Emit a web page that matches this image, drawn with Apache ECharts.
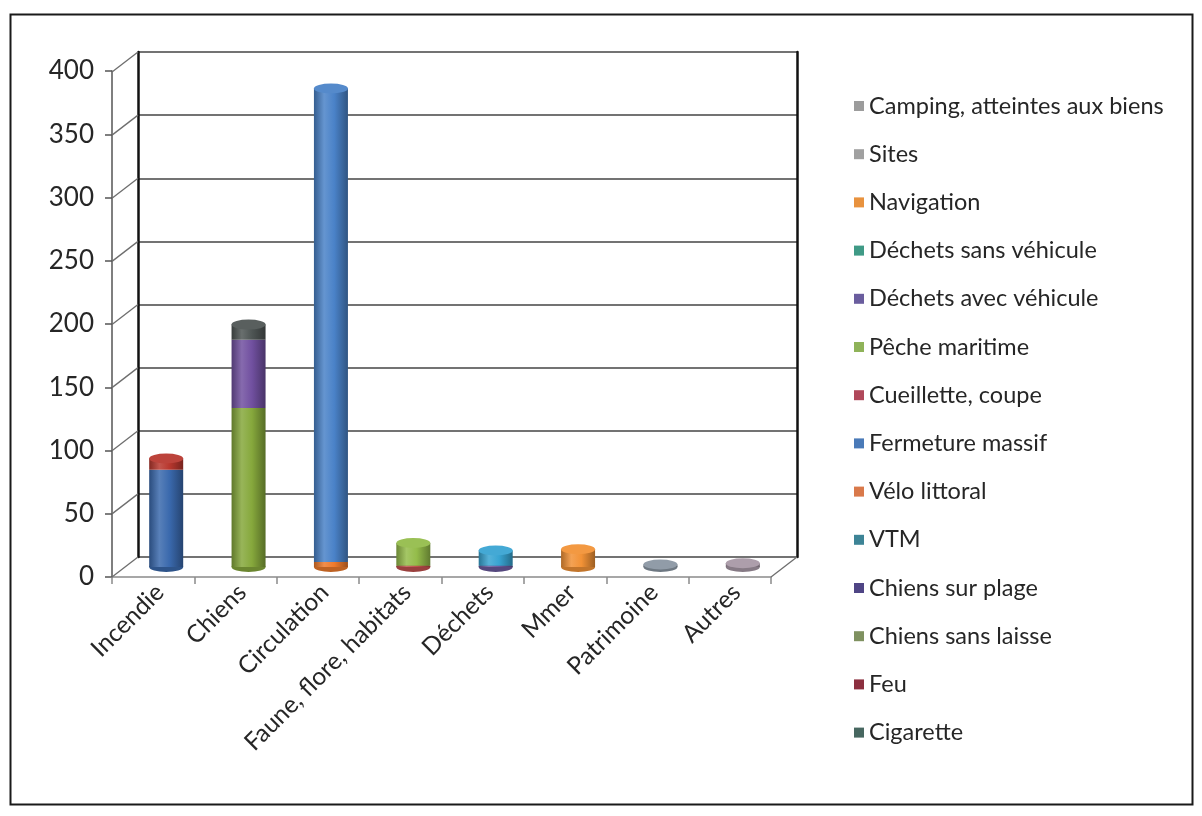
<!DOCTYPE html>
<html>
<head>
<meta charset="utf-8">
<script src="https://cdn.jsdelivr.net/npm/echarts@6/dist/echarts.min.js"></script>
<style>
  html, body { margin: 0; padding: 0; background: #ffffff; }
  #chart { width: 1202px; height: 816px; }
</style>
</head>
<body>
<div id="chart"></div>
<script>
// Categories (front axis) and value axis ticks
const categories = ['Incendie', 'Chiens', 'Circulation', 'Faune, flore, habitats', 'Déchets', 'Mmer', 'Patrimoine', 'Autres'];
const yTicks = [0, 50, 100, 150, 200, 250, 300, 350, 400];

// Infraction counts per theme, one array per sub-category (stack order, bottom first)
const fermetureMassif   = [77, 0, 0, 0, 0, 0, 0, 0];
const feu               = [9, 0, 0, 0, 0, 0, 0, 0];
const chiensSansLaisse  = [0, 126, 0, 0, 0, 0, 0, 0];
const chiensSurPlage    = [0, 54, 0, 0, 0, 0, 0, 0];
const cigarette         = [0, 12, 0, 0, 0, 0, 0, 0];
const veloLittoral      = [0, 0, 4, 0, 0, 0, 0, 0];
const vtm               = [0, 0, 375, 0, 0, 0, 0, 0];
const cueilletteCoupe   = [0, 0, 0, 1, 0, 0, 0, 0];
const pecheMaritime     = [0, 0, 0, 18, 0, 0, 0, 0];
const dechetsAvecVeh    = [0, 0, 0, 0, 1, 0, 0, 0];
const dechetsSansVeh    = [0, 0, 0, 0, 12, 0, 0, 0];
const navigation        = [0, 0, 0, 0, 0, 14, 0, 0];
const sites             = [0, 0, 0, 0, 0, 0, 2, 0];
const camping           = [0, 0, 0, 0, 0, 0, 0, 3];

// Series names and colours (stack order)
const stackSeries = [
  { name: 'Fermeture massif', data: fermetureMassif, color: '#3a69ad', legend: '#4a7ab8' },
  { name: 'Feu', data: feu, color: '#b8372e', legend: '#8c2f3f' },
  { name: 'Chiens sans laisse', data: chiensSansLaisse, color: '#86a83c', legend: '#7f9160' },
  { name: 'Chiens sur plage', data: chiensSurPlage, color: '#7150a0', legend: '#4f4585' },
  { name: 'Cigarette', data: cigarette, color: '#4e5554', legend: '#476760' },
  { name: 'Vélo littoral', data: veloLittoral, color: '#ee7a2c', legend: '#d9794a' },
  { name: 'VTM', data: vtm, color: '#4a82c8', legend: '#3d8496' },
  { name: 'Cueillette, coupe', data: cueilletteCoupe, color: '#c0504d', legend: '#b0485a' },
  { name: 'Pêche maritime', data: pecheMaritime, color: '#94bc4a', legend: '#8fb359' },
  { name: 'Déchets avec véhicule', data: dechetsAvecVeh, color: '#6a5a9e', legend: '#6a5d9e' },
  { name: 'Déchets sans véhicule', data: dechetsSansVeh, color: '#38a4d2', legend: '#3f9a86' },
  { name: 'Navigation', data: navigation, color: '#f29236', legend: '#e8923e' },
  { name: 'Sites', data: sites, color: '#8a96a2', legend: '#a0a0a0' },
  { name: 'Camping, atteintes aux biens', data: camping, color: '#a898a6', legend: '#9c9c9c' }
];

// Legend listing, top to bottom
const legendOrder = [
  'Camping, atteintes aux biens', 'Sites', 'Navigation', 'Déchets sans véhicule',
  'Déchets avec véhicule', 'Pêche maritime', 'Cueillette, coupe', 'Fermeture massif',
  'Vélo littoral', 'VTM', 'Chiens sur plage', 'Chiens sans laisse', 'Feu', 'Cigarette'
];

const FONT = 'Lato, "Open Sans", sans-serif';
const TEXT = '#262626';

function shade(hex, f) {
  const n = parseInt(hex.slice(1), 16);
  let r = (n >> 16) & 255, g = (n >> 8) & 255, b = n & 255;
  const t = f < 0 ? 0 : 255, p = Math.abs(f);
  r = Math.round(r + (t - r) * p); g = Math.round(g + (t - g) * p); b = Math.round(b + (t - b) * p);
  return '#' + ((1 << 24) + (r << 16) + (g << 8) + b).toString(16).slice(1);
}
function cylinderFill(c) {
  return {
    type: 'linear', x: 0, y: 0, x2: 1, y2: 0,
    colorStops: [
      { offset: 0, color: shade(c, -0.28) },
      { offset: 0.3, color: shade(c, 0.15) },
      { offset: 0.6, color: c },
      { offset: 1, color: shade(c, -0.35) }
    ]
  };
}

// Totals and top/bottom segment colours for the cylinder caps
const totals = categories.map((_, i) => stackSeries.reduce((s, d) => s + d.data[i], 0));
const topColor = categories.map((_, i) => {
  for (let k = stackSeries.length - 1; k >= 0; k--) if (stackSeries[k].data[i] > 0) return stackSeries[k].color;
  return '#999';
});
const bottomColor = categories.map((_, i) => {
  for (let k = 0; k < stackSeries.length; k++) if (stackSeries[k].data[i] > 0) return stackSeries[k].color;
  return '#999';
});

const BAR_W = 34;
const DEPTH_X = 26, DEPTH_Y = 20;

const chart = echarts.init(document.getElementById('chart'));

const series = [];

// Depth connectors from the front axis ticks to the back wall, plus the floor corner
series.push({
  type: 'custom',
  xAxisIndex: 0, yAxisIndex: 0,
  silent: true, z: 1,
  data: yTicks.map(v => [0, v]).concat([[categories.length, 0]]),
  renderItem: function (params, api) {
    const p = api.coord([api.value(0), api.value(1)]);
    return {
      type: 'line',
      shape: { x1: p[0], y1: p[1], x2: p[0] - DEPTH_X, y2: p[1] + DEPTH_Y },
      style: { stroke: '#6e6e6e', lineWidth: 1.3 }
    };
  }
});

// Bottom caps of the cylinders
series.push({
  type: 'pictorialBar',
  xAxisIndex: 2, yAxisIndex: 2,
  silent: true, z: 1,
  barWidth: BAR_W,
  symbol: 'circle',
  symbolSize: [BAR_W, 10],
  symbolPosition: 'start',
  symbolOffset: [0, '50%'],
  data: totals.map((t, i) => ({ value: t, itemStyle: { color: shade(bottomColor[i], -0.2) } }))
});

// Stacked cylinder bodies
stackSeries.forEach(s => {
  series.push({
    name: s.name,
    type: 'bar',
    stack: 'total',
    xAxisIndex: 2, yAxisIndex: 2,
    barWidth: BAR_W,
    z: 2,
    color: s.color,
    itemStyle: { color: cylinderFill(s.color) },
    data: s.data
  });
});

// Top caps
series.push({
  type: 'pictorialBar',
  xAxisIndex: 2, yAxisIndex: 2,
  silent: true, z: 3,
  barWidth: BAR_W,
  symbol: 'circle',
  symbolSize: [BAR_W, 10],
  symbolPosition: 'end',
  symbolOffset: [0, '-50%'],
  data: totals.map((t, i) => ({ value: t, itemStyle: { color: shade(topColor[i], 0.06) } }))
});

const legendColor = {};
stackSeries.forEach(s => { legendColor[s.name] = s.legend; });

const yMin = yTicks[0], yMax = yTicks[yTicks.length - 1], yStep = yTicks[1] - yTicks[0];

const option = {
  backgroundColor: '#ffffff',
  animation: false,
  textStyle: { fontFamily: FONT },
  graphic: [{
    type: 'rect',
    left: 8, top: 12,
    shape: { width: 1182, height: 790 },
    style: { fill: 'none', stroke: '#1a1a1a', lineWidth: 2 },
    z: 0
  }],
  legend: {
    orient: 'vertical',
    left: 849, top: 88,
    itemWidth: 10, itemHeight: 10,
    itemGap: 22.2,
    icon: 'rect',
    textStyle: { fontFamily: FONT, fontSize: 23.5, color: TEXT, lineHeight: 26, padding: [0, 0, 0, 0] },
    data: legendOrder.map(n => ({ name: n, itemStyle: { color: legendColor[n] } })),
    selectedMode: false
  },
  grid: [
    { left: 138, top: 52, width: 659, height: 505 },   // back wall
    { left: 112, top: 71, width: 659, height: 506 },   // front edges
    { left: 125, top: 62, width: 659, height: 505 }    // cylinders (mid depth)
  ],
  xAxis: [
    { gridIndex: 0, type: 'value', min: 0, max: categories.length, show: false },
    {
      gridIndex: 1, type: 'category', data: categories,
      axisLine: { lineStyle: { color: '#8a8a8a', width: 1.5 } },
      axisTick: { show: true, length: 7, interval: 0, lineStyle: { color: '#8a8a8a', width: 1.5 } },
      axisLabel: { show: false },
      splitLine: { show: false }
    },
    {
      gridIndex: 2, type: 'category', data: categories,
      axisLine: { show: false }, axisTick: { show: false },
      axisLabel: {
        interval: 0, rotate: 45, margin: 15,
        padding: [0, 9, 0, 0],
        fontFamily: FONT, fontSize: 24.5, color: TEXT
      }
    }
  ],
  yAxis: [
    {
      gridIndex: 0, type: 'value', min: yMin, max: yMax, interval: yStep,
      axisLine: { show: true, lineStyle: { color: '#111', width: 2.5 } },
      axisTick: { show: false }, axisLabel: { show: false },
      splitLine: { show: true, lineStyle: { color: '#444', width: 1.5 } }
    },
    {
      gridIndex: 1, type: 'value', min: yMin, max: yMax, interval: yStep,
      axisLine: { show: true, lineStyle: { color: '#555', width: 1.5 } },
      axisTick: { show: true, length: 7, lineStyle: { color: '#555', width: 1.5 } },
      axisLabel: { margin: 18, fontFamily: FONT, fontSize: 26, color: TEXT },
      splitLine: { show: false }
    },
    { gridIndex: 2, type: 'value', min: yMin, max: yMax, show: false },
    {
      gridIndex: 0, type: 'value', min: yMin, max: yMax, position: 'right',
      axisLine: { show: true, lineStyle: { color: '#111', width: 2.5 } },
      axisTick: { show: false }, axisLabel: { show: false }, splitLine: { show: false }
    }
  ],
  series: series
};

chart.setOption(option);
</script>
</body>
</html>
